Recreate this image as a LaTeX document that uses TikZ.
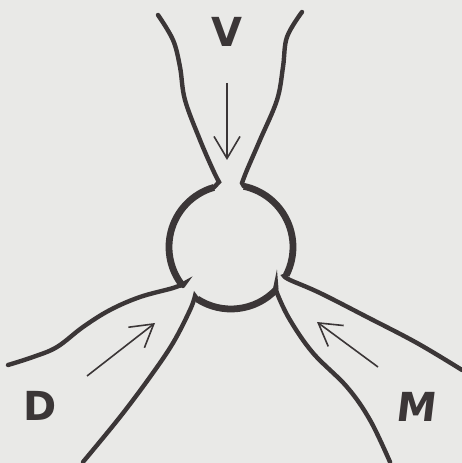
\documentclass[tikz,border=0pt]{standalone}
\usepackage{fontspec}
\setsansfont{DejaVu Sans}
\usetikzlibrary{arrows.meta,calc}
\definecolor{jnPaper}{HTML}{e9e9e7}
\definecolor{jnInk}{HTML}{3b3637}
\tikzset{
  >={Straight Barb[length=22pt,width=26pt]},
  wall/.style={draw=jnInk, line width=4.4pt, line cap=round},
  rim/.style={draw=jnInk, line width=6.8pt},
  flow/.style={->, draw=jnInk, line width=1.6pt},
  lbl/.style={text=jnInk, inner sep=0pt, font=\sffamily\bfseries\fontsize{40}{40}\selectfont},
}

\begin{document}
\begin{tikzpicture}[x=1pt,y=1pt]
        \fill[jnPaper] (0,0) rectangle (462,463);
        \useasboundingbox (0,0) rectangle (462,463);
        \coordinate (hub) at (231,216);
        % the three walls, each ending in a short spur at the rim
        \draw[wall] plot[smooth,tension=0.6] coordinates {(158,448) (173,423) (180,396) (185,363) (200,323) (213,293) (219,281)}
          -- ($(hub)+(106:62)$);
        \draw[wall] ($(hub)+(219:62)$) -- plot[smooth,tension=0.6] coordinates {(185,180) (173,175) (140,166) (110,153) (83,136) (57,116) (33,106) (8,98)};
        \draw[wall] plot[smooth,tension=0.6] coordinates {(83,1) (120,46) (150,86) (173,120) (190,153) (195,167)}
          -- ($(hub)+(237:62)$);
        \draw[wall] ($(hub)+(317:62)$) -- plot[smooth,tension=0.6] coordinates {(276,178) (277,170) (290,143) (313,110) (347,76) (370,43) (390,1)};
        \draw[wall] plot[smooth,tension=0.6] coordinates {(462,93) (417,120) (367,146) (320,170) (290,183) (284,187)}
          -- ($(hub)+(333:62)$);
        \draw[wall] ($(hub)+(78:62)$) -- plot[smooth,tension=0.6] coordinates {(242,280) (247,293) (260,323) (277,363) (283,396) (287,426) (302,451)};
        % rim of the chamber
        \foreach \a/\b in {106/219,237/317,-27/78}{
          \draw[rim] ($(hub)+(\a:62)$) arc[start angle=\a,end angle=\b,radius=62];
        }
        \coordinate (vtail) at (227,380);
        \coordinate (vtip) at (227,303);
        \coordinate (dtail) at (87,87);
        \coordinate (dtip) at (155,140);
        \coordinate (mtail) at (378,96);
        \coordinate (mtip) at (317,141);
        \draw[flow] (vtail) -- (vtip);
        \draw[flow] (dtail) -- (dtip);
        \draw[flow] (mtail) -- (mtip);
        \node[lbl] (v) at (227,431) {V};
        \node[lbl] (d) at (40,57) {D};
        \node[lbl,xslant=0.12] (m) at (417,56) {M};
      \end{tikzpicture}
\end{document}
